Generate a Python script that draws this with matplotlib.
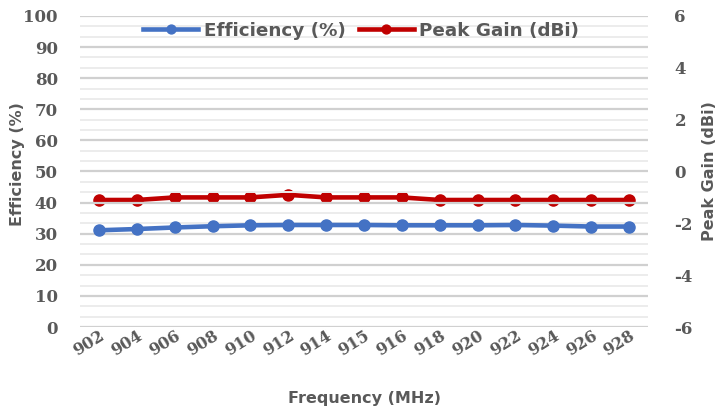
import numpy as np
import matplotlib
matplotlib.use("Agg")
import matplotlib.pyplot as plt
import matplotlib.transforms as mtransforms

# Data
freqs = ["902", "904", "906", "908", "910", "912", "914", "915", "916",
         "918", "920", "922", "924", "926", "928"]
efficiency = [31.1, 31.5, 32.0, 32.4, 32.7, 32.8, 32.8, 32.8, 32.7,
              32.7, 32.7, 32.8, 32.6, 32.3, 32.3]
peak_gain = [-1.1, -1.1, -1.0, -1.0, -1.0, -0.9, -1.0, -1.0, -1.0,
             -1.1, -1.1, -1.1, -1.1, -1.1, -1.1]

BLUE = "#4472C4"
RED = "#C00000"
TXT = "#595959"

plt.rcParams["font.family"] = ["DejaVu Sans"]
plt.rcParams["axes.unicode_minus"] = False

fig = plt.figure(figsize=(7.26, 4.11), dpi=100)
ax = fig.add_axes([80 / 726, 1 - 327 / 411, 568 / 726, 311 / 411])
ax2 = ax.twinx()

x = np.arange(len(freqs))

# gridlines: major every 10, lighter ones at thirds in between
for v in range(0, 101, 10):
    ax.axhline(v, color="#d0d0d0", lw=1.6, zorder=0)
for v in range(0, 100, 10):
    for f in (1 / 3, 2 / 3):
        ax.axhline(v + 10 * f, color="#ececec", lw=1.4, zorder=0)

l1, = ax.plot(x, efficiency, color=BLUE, lw=3.3, marker="o", ms=8,
              label="Efficiency (%)", zorder=3)
l2, = ax2.plot(x, peak_gain, color=RED, lw=3.3, marker="o", ms=8,
               label="Peak Gain (dBi)", zorder=3)

ax.set_xlim(-0.5, len(freqs) - 0.5)
ax.set_ylim(0, 100)
ax.set_yticks(range(0, 101, 10))
ax2.set_ylim(-6, 6)
ax2.set_yticks(range(-6, 7, 2))

ax.set_xticks(x)
ax.set_xticklabels(freqs, rotation=32, ha="right", va="top",
                   rotation_mode="anchor")
shift = mtransforms.ScaledTranslation(3 / 100, -15 / 100, fig.dpi_scale_trans)
for lab in ax.get_xticklabels():
    lab.set_transform(lab.get_transform() + shift)
    lab.set_fontfamily("DejaVu Serif")
    lab.set_fontsize(11.5)

for a in (ax, ax2):
    for s in a.spines.values():
        s.set_visible(False)
    a.tick_params(length=0, colors=TXT)
    for lab in a.get_yticklabels():
        lab.set_fontfamily("DejaVu Serif")
        lab.set_fontsize(12)
    for lab in a.get_yticklabels() + a.get_xticklabels():
        lab.set_fontweight("bold")
        lab.set_color(TXT)

ax.tick_params(axis="y", pad=16)
ax2.tick_params(axis="y", pad=19)
ax.tick_params(axis="x", pad=0)

ax.set_xlabel("Frequency (MHz)", fontsize=11.5, fontweight="bold", color=TXT,
              va="center")
ax.xaxis.set_label_coords(0.5, -(398 - 327) / 311)
ax.set_ylabel("Efficiency (%)", fontsize=11.5, fontweight="bold", color=TXT)
ax.yaxis.set_label_coords((25 - 80) / 568, 0.525)
ax2.set_ylabel("Peak Gain (dBi)", fontsize=11.5, fontweight="bold", color=TXT)
ax2.yaxis.set_label_coords((702 - 80) / 568, 0.5)

leg = ax.legend(handles=[l1, l2], loc="upper center",
                bbox_to_anchor=(0.495, 1.035), ncol=2, frameon=False,
                fontsize=13.2, handlelength=3.0, columnspacing=0.7,
                handletextpad=0.3, markerscale=0.8)
for t in leg.get_texts():
    t.set_color(TXT)
    t.set_fontweight("bold")
leg.set_zorder(5)
ax.set_zorder(ax2.get_zorder() + 1)
ax.patch.set_visible(False)

fig.savefig("out.png", dpi=100)
